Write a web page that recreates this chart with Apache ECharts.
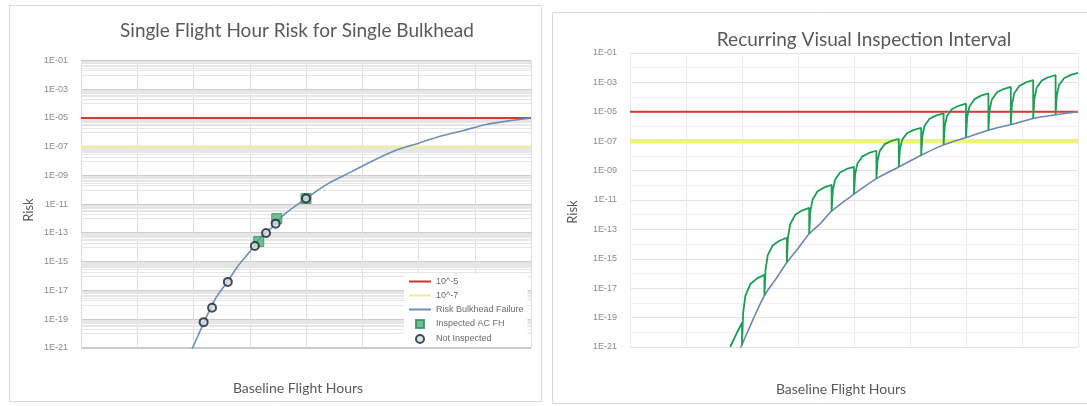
<!DOCTYPE html>
<html>
<head>
<meta charset="utf-8">
<script src="https://cdn.jsdelivr.net/npm/echarts@6/dist/echarts.min.js"></script>
<style>
  html, body { margin: 0; padding: 0; background: #ffffff; }
  #chart { width: 1087px; height: 406px; }
</style>
</head>
<body>
<div id="chart"></div>
<script>
// Risk values are kept as log10 exponents: -5 means 1E-05.
const hourTicks = [0, 1000, 2000, 3000, 4000, 5000, 6000, 7000, 8000];
const riskTickExp = [-21, -19, -17, -15, -13, -11, -9, -7, -5, -3, -1];
const riskTickLabels = ['1E-21', '1E-19', '1E-17', '1E-15', '1E-13', '1E-11',
                        '1E-09', '1E-07', '1E-05', '1E-03', '1E-01'];

// Risk thresholds
const limitHighExp = -5;   // 10^-5
const limitLowExp = -7;    // 10^-7

// Risk of bulkhead failure versus baseline flight hours
const bulkheadHours = [1970, 2000, 2200, 2400, 2600, 2800, 3000, 3200, 3400, 3600, 4000,
                       4400, 4800, 5200, 5600, 6000, 6400, 6800, 7200, 7600, 8000];
const bulkheadLogRisk = [-21.1, -20.85, -19.1, -17.5, -16.4, -15.25, -14.3, -13.3, -12.6, -11.75, -10.6,
                         -9.55, -8.75, -7.95, -7.25, -6.75, -6.25, -5.87, -5.45, -5.2, -5.0];

// Fleet aircraft positions on the curve
const inspectedHours = [3160, 3480, 4000];
const inspectedLogRisk = [-13.6, -12.0, -10.6];
const notInspectedHours = [2180, 2330, 2610, 3090, 3290, 3460, 4000];
const notInspectedLogRisk = [-19.2, -18.2, -16.4, -13.9, -13.0, -12.35, -10.6];

// Risk with a recurring visual inspection every 400 h (drops back to the base curve)
const recurringHours = [
  1790, 1900, 2000,
  2000, 2020, 2060, 2150, 2270, 2400,
  2400, 2420, 2460, 2550, 2670, 2800,
  2800, 2820, 2860, 2950, 3070, 3200,
  3200, 3220, 3260, 3350, 3470, 3600,
  3600, 3620, 3660, 3750, 3870, 4000,
  4000, 4020, 4060, 4150, 4270, 4400,
  4400, 4420, 4460, 4550, 4670, 4800,
  4800, 4820, 4860, 4950, 5070, 5200,
  5200, 5220, 5260, 5350, 5470, 5600,
  5600, 5620, 5660, 5750, 5870, 6000,
  6000, 6020, 6060, 6150, 6270, 6400,
  6400, 6420, 6460, 6550, 6670, 6800,
  6800, 6820, 6860, 6950, 7070, 7200,
  7200, 7220, 7260, 7350, 7470, 7600,
  7600, 7620, 7660, 7750, 7870, 8000
];
const recurringLogRisk = [
  -21.0, -20.1, -19.35,
  -20.85, -18.71, -17.52, -16.71, -16.33, -16.09,
  -17.5, -15.73, -14.75, -14.08, -13.77, -13.57,
  -15.25, -13.58, -12.65, -12.01, -11.72, -11.53,
  -13.3, -11.8, -10.97, -10.4, -10.14, -9.97,
  -11.75, -10.4, -9.64, -9.13, -8.89, -8.74,
  -10.6, -9.27, -8.53, -8.03, -7.8, -7.65,
  -9.55, -8.33, -7.66, -7.2, -6.98, -6.85,
  -8.75, -7.56, -6.89, -6.44, -6.23, -6.1,
  -7.95, -6.67, -5.95, -5.47, -5.24, -5.1,
  -7.25, -5.99, -5.29, -4.81, -4.59, -4.45,
  -6.75, -5.4, -4.65, -4.14, -3.9, -3.75,
  -6.25, -4.92, -4.18, -3.68, -3.45, -3.3,
  -5.87, -4.51, -3.76, -3.24, -3.0, -2.85,
  -5.45, -4.12, -3.38, -2.88, -2.65, -2.5,
  -5.2, -3.92, -3.2, -2.72, -2.49, -2.35
];

const zip = (xs, ys) => xs.map((x, i) => [x, ys[i]]);
const xMin = hourTicks[0], xMax = hourTicks[hourTicks.length - 1];

const textColor = '#595959';
const labelFont = 'Liberation Sans';
const titleFont = 'Lato';
const lineIcon = 'path://M0,0H22V2H0Z';
const squareIcon = 'path://M0,0H7V7H0Z';

function riskLabel(v) {
  const i = riskTickExp.indexOf(Math.round(v));
  return i >= 0 ? riskTickLabels[i] : '';
}

// Minor log gridlines (1x..9x of each decade below a labelled line)
const minorLines = [];
riskTickExp.slice(1).forEach(function (m) {
  for (let k = 1; k <= 9; k++) minorLines.push({ yAxis: m - 1 + Math.log10(k) });
});
const midLines = riskTickExp.slice(1).map(m => ({ yAxis: m - 1 }));

function xAxisCfg(gridIndex, color) {
  return {
    type: 'value', gridIndex: gridIndex, min: xMin, max: xMax, interval: hourTicks[1] - hourTicks[0],
    axisLine: { show: false }, axisTick: { show: false }, axisLabel: { show: false },
    splitLine: { show: true, lineStyle: { color: color, width: 1 } }
  };
}
function yAxisCfg(gridIndex, color, width) {
  return {
    type: 'value', gridIndex: gridIndex,
    min: riskTickExp[0], max: riskTickExp[riskTickExp.length - 1], interval: 2,
    axisLine: { show: false }, axisTick: { show: false },
    axisLabel: { formatter: riskLabel, margin: 13, fontSize: 9, color: '#8a8a8a', fontFamily: labelFont },
    splitLine: { show: true, lineStyle: { color: color, width: width } }
  };
}
function gridMarks(xi, lines, color) {
  return {
    type: 'line', name: 'grid-' + xi, xAxisIndex: xi, yAxisIndex: xi, data: [], silent: true, z: 1,
    markLine: { silent: true, z: 1, symbol: ['none', 'none'], label: { show: false }, animation: false,
                lineStyle: { color: color, width: 1, type: 'solid' }, data: lines }
  };
}

const chart = echarts.init(document.getElementById('chart'), null, { renderer: 'canvas' });

chart.setOption({
  animation: false,
  backgroundColor: '#ffffff',
  grid: [
    { left: 81, top: 60.5, width: 450, height: 287.5 },
    { left: 630, top: 53, width: 448, height: 294 }
  ],
  xAxis: [xAxisCfg(0, '#dedede'), xAxisCfg(1, '#ececec')],
  yAxis: [yAxisCfg(0, '#cbcbcb', 2), yAxisCfg(1, '#e4e4e4', 1)],
  legend: {
    orient: 'vertical', left: 404, top: 274, z: 10,
    backgroundColor: '#ffffff', padding: [3, 4, 3, 5],
    itemWidth: 22, itemHeight: 8, itemGap: 5,
    textStyle: { fontSize: 9, color: '#6b6b6b', fontFamily: labelFont },
    data: [
      { name: '10^-5', icon: lineIcon },
      { name: '10^-7', icon: lineIcon },
      { name: 'Risk Bulkhead Failure', icon: lineIcon },
      { name: 'Inspected AC FH', icon: squareIcon },
      { name: 'Not Inspected' }
    ]
  },
  graphic: [
    { type: 'rect', shape: { x: 9.5, y: 5.5, width: 532, height: 396 },
      style: { fill: null, stroke: '#d9d9d9', lineWidth: 1 }, silent: true },
    { type: 'rect', shape: { x: 552.5, y: 12.5, width: 545, height: 391 },
      style: { fill: null, stroke: '#d9d9d9', lineWidth: 1 }, silent: true },
    { type: 'text', x: 297, y: 31,
      style: { text: 'Single Flight Hour Risk for Single Bulkhead', fill: textColor,
               fontSize: 19, fontFamily: titleFont, align: 'center', verticalAlign: 'middle' } },
    { type: 'text', x: 864, y: 40,
      style: { text: 'Recurring Visual Inspection Interval', fill: textColor,
               fontSize: 19, fontFamily: titleFont, align: 'center', verticalAlign: 'middle' } },
    { type: 'text', x: 29, y: 210, rotation: Math.PI / 2,
      style: { text: 'Risk', fill: textColor, fontSize: 13, fontFamily: titleFont,
               align: 'center', verticalAlign: 'middle' } },
    { type: 'text', x: 573, y: 212, rotation: Math.PI / 2,
      style: { text: 'Risk', fill: textColor, fontSize: 13, fontFamily: titleFont,
               align: 'center', verticalAlign: 'middle' } },
    { type: 'text', x: 298, y: 388,
      style: { text: 'Baseline Flight Hours', fill: textColor, fontSize: 14, fontFamily: titleFont,
               align: 'center', verticalAlign: 'middle' } },
    { type: 'text', x: 841, y: 389,
      style: { text: 'Baseline Flight Hours', fill: textColor, fontSize: 14, fontFamily: titleFont,
               align: 'center', verticalAlign: 'middle' } }
  ],
  series: [
    gridMarks(0, minorLines, '#e6e6e6'),
    gridMarks(1, midLines, '#f1f1f1'),

    // ---- left panel ----
    { type: 'line', name: '10^-7', xAxisIndex: 0, yAxisIndex: 0, symbol: 'none', z: 3,
      lineStyle: { color: '#f0eca8', width: 2.5 }, itemStyle: { color: '#efeaa0' },
      data: [[xMin, limitLowExp], [xMax, limitLowExp]] },
    { type: 'line', name: '10^-5', xAxisIndex: 0, yAxisIndex: 0, symbol: 'none', z: 3,
      lineStyle: { color: '#d43a33', width: 2 }, itemStyle: { color: '#c8332d' },
      data: [[xMin, limitHighExp], [xMax, limitHighExp]] },
    { type: 'line', name: 'Risk Bulkhead Failure', xAxisIndex: 0, yAxisIndex: 0, symbol: 'none', z: 4,
      smooth: 0.3, lineStyle: { color: '#6d8fb5', width: 1.6 }, itemStyle: { color: '#6d8fb5' },
      data: zip(bulkheadHours, bulkheadLogRisk) },
    { type: 'scatter', name: 'Inspected AC FH', xAxisIndex: 0, yAxisIndex: 0, z: 5,
      symbol: 'rect', symbolSize: 10,
      itemStyle: { color: '#4caf7a', borderColor: '#2f8f5a', borderWidth: 1 },
      data: zip(inspectedHours, inspectedLogRisk) },
    { type: 'scatter', name: 'Not Inspected', xAxisIndex: 0, yAxisIndex: 0, z: 6,
      symbol: 'circle', symbolSize: 8,
      itemStyle: { color: '#d6dde6', borderColor: '#16232b', borderWidth: 2 },
      data: zip(notInspectedHours, notInspectedLogRisk) },

    // ---- right panel ----
    { type: 'line', name: 'Interval 10^-7', xAxisIndex: 1, yAxisIndex: 1, symbol: 'none', z: 3,
      lineStyle: { color: '#eef284', width: 4.5 },
      data: [[xMin, limitLowExp], [xMax, limitLowExp]] },
    { type: 'line', name: 'Interval 10^-5', xAxisIndex: 1, yAxisIndex: 1, symbol: 'none', z: 3,
      lineStyle: { color: '#d43a33', width: 2 },
      data: [[xMin, limitHighExp], [xMax, limitHighExp]] },
    { type: 'line', name: 'Interval base risk', xAxisIndex: 1, yAxisIndex: 1, symbol: 'none', z: 4,
      smooth: 0.3, lineStyle: { color: '#6d86b0', width: 1.6 },
      data: zip(bulkheadHours, bulkheadLogRisk) },
    { type: 'line', name: 'Interval recurring risk', xAxisIndex: 1, yAxisIndex: 1, symbol: 'none', z: 5,
      lineStyle: { color: '#1f9d57', width: 1.8 },
      data: zip(recurringHours, recurringLogRisk) }
  ]
});
</script>
</body>
</html>
